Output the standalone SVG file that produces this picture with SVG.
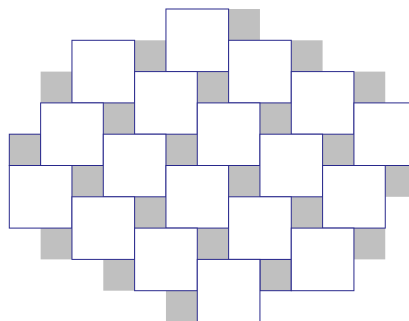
<svg xmlns="http://www.w3.org/2000/svg" width="409" height="321" viewBox="0 0 409 321">
<style>
.g{fill:#c0c0c0;stroke:none}
.gs{fill:#c0c0c0;stroke:#28288c;stroke-width:1}
.w{fill:#ffffff;stroke:#28288c;stroke-width:1}
</style>
<rect x="0" y="0" width="409" height="321" fill="#ffffff"/>
<g id="small-tiles">
<rect class="g" x="228.61" y="9" width="31.33" height="31.3"/>
<rect class="g" x="134.62" y="40.3" width="31.33" height="31.3"/>
<rect class="g" x="291.27" y="40.3" width="31.33" height="31.3"/>
<rect class="g" x="40.63" y="71.6" width="31.33" height="31.3"/>
<rect class="g" x="197.28" y="71.6" width="31.33" height="31.3"/>
<rect class="g" x="353.93" y="71.6" width="31.33" height="31.3"/>
<rect class="g" x="103.29" y="102.9" width="31.33" height="31.3"/>
<rect class="g" x="259.94" y="102.9" width="31.33" height="31.3"/>
<rect class="gs" x="9.3" y="134.2" width="31.33" height="31.3"/>
<rect class="g" x="165.95" y="134.2" width="31.33" height="31.3"/>
<rect class="g" x="322.6" y="134.2" width="31.33" height="31.3"/>
<rect class="g" x="71.96" y="165.5" width="31.33" height="31.3"/>
<rect class="g" x="228.61" y="165.5" width="31.33" height="31.3"/>
<rect class="g" x="385.26" y="165.5" width="31.33" height="31.3"/>
<rect class="g" x="134.62" y="196.8" width="31.33" height="31.3"/>
<rect class="g" x="291.27" y="196.8" width="31.33" height="31.3"/>
<rect class="g" x="40.63" y="228.1" width="31.33" height="31.3"/>
<rect class="g" x="197.28" y="228.1" width="31.33" height="31.3"/>
<rect class="g" x="353.93" y="228.1" width="31.33" height="31.3"/>
<rect class="g" x="103.29" y="259.4" width="31.33" height="31.3"/>
<rect class="gs" x="259.94" y="259.4" width="31.33" height="31.3"/>
<rect class="g" x="165.95" y="290.7" width="31.33" height="31.3"/>
</g>
<g id="large-tiles">
<rect id="t1" class="w" x="165.95" y="9" width="62.66" height="62.6"/>
<rect id="t2" class="w" x="71.96" y="40.3" width="62.66" height="62.6"/>
<rect id="t3" class="w" x="228.61" y="40.3" width="62.66" height="62.6"/>
<rect id="t4" class="w" x="134.62" y="71.6" width="62.66" height="62.6"/>
<rect id="t5" class="w" x="291.27" y="71.6" width="62.66" height="62.6"/>
<rect id="t6" class="w" x="40.63" y="102.9" width="62.66" height="62.6"/>
<rect id="t7" class="w" x="197.28" y="102.9" width="62.66" height="62.6"/>
<rect id="t8" class="w" x="353.93" y="102.9" width="62.66" height="62.6"/>
<rect id="t9" class="w" x="103.29" y="134.2" width="62.66" height="62.6"/>
<rect id="t10" class="w" x="259.94" y="134.2" width="62.66" height="62.6"/>
<rect id="t11" class="w" x="9.3" y="165.5" width="62.66" height="62.6"/>
<rect id="t12" class="w" x="165.95" y="165.5" width="62.66" height="62.6"/>
<rect id="t13" class="w" x="322.6" y="165.5" width="62.66" height="62.6"/>
<rect id="t14" class="w" x="71.96" y="196.8" width="62.66" height="62.6"/>
<rect id="t15" class="w" x="228.61" y="196.8" width="62.66" height="62.6"/>
<rect id="t16" class="w" x="134.62" y="228.1" width="62.66" height="62.6"/>
<rect id="t17" class="w" x="291.27" y="228.1" width="62.66" height="62.6"/>
<rect id="t18" class="w" x="197.28" y="259.4" width="62.66" height="62.6"/>
</g>
</svg>
